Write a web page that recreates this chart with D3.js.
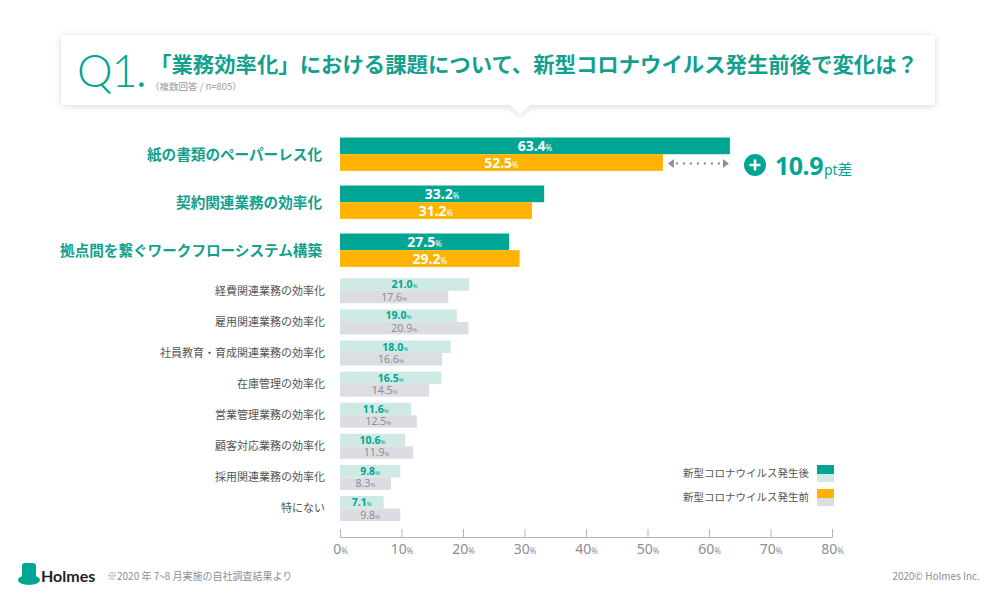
<!DOCTYPE html>
<html>
<head>
<meta charset="utf-8">
<script src="https://cdn.jsdelivr.net/npm/d3@7"></script>
<style>
  body { margin: 0; background: #fff; }
  svg { display: block; font-family: "Noto Sans CJK JP", "Noto Sans", sans-serif; }
</style>
</head>
<body>
<div id="chart"></div>
<script>
// Data
const categories = [
  '紙の書類のペーパーレス化',
  '契約関連業務の効率化',
  '拠点間を繋ぐワークフローシステム構築',
  '経費関連業務の効率化',
  '雇用関連業務の効率化',
  '社員教育・育成関連業務の効率化',
  '在庫管理の効率化',
  '営業管理業務の効率化',
  '顧客対応業務の効率化',
  '採用関連業務の効率化',
  '特にない'
];
const afterValues = [63.4, 33.2, 27.5, 21.0, 19.0, 18.0, 16.5, 11.6, 10.6, 9.8, 7.1];
const beforeValues = [52.5, 31.2, 29.2, 17.6, 20.9, 16.6, 14.5, 12.5, 11.9, 8.3, 9.8];
const seriesNames = ['新型コロナウイルス発生後', '新型コロナウイルス発生前'];
const xTicks = [0, 10, 20, 30, 40, 50, 60, 70, 80];
const highlightCount = 3;
const diffLabel = '10.9';

const W = 1000, H = 604;
const col = {
  teal: '#00a594', orange: '#fdb300', lightTeal: '#cfe9e4', lightGray: '#dcdde3',
  labelTeal: '#13a08e', text: '#555', gray: '#8c8d96'
};

const svg = d3.select('#chart').append('svg')
    .attr('width', W).attr('height', H);

svg.append('rect').attr('width', W).attr('height', H).attr('fill', '#fff');

// drop shadow for the title box
const defs = svg.append('defs');
defs.append('filter').attr('id', 'shadow')
    .attr('x', '-5%').attr('y', '-30%').attr('width', '110%').attr('height', '170%')
  .append('feDropShadow')
    .attr('dx', 0).attr('dy', 1).attr('stdDeviation', 3.5)
    .attr('flood-color', '#000').attr('flood-opacity', 0.16);

// Title box with pointer
const box = svg.append('g').attr('filter', 'url(#shadow)');
box.append('path')
    .attr('d', 'M64,35 H932 Q935,35 935,38 V102 Q935,105 932,105 H530 L520,114 L510,105 H64 Q61,105 61,102 V38 Q61,35 64,35 Z')
    .attr('fill', '#fff');

const q = svg.append('text')
    .attr('x', 77).attr('y', 87)
    .attr('fill', col.teal)
    .attr('font-family', 'Lato, "Open Sans", sans-serif')
    .attr('font-weight', 300)
    .attr('font-size', 45)
    .attr('letter-spacing', -1);
q.append('tspan').text('Q1');
q.append('tspan').attr('font-weight', 700).attr('font-size', 30).attr('dx', 1).text('.');

svg.append('text')
    .attr('x', 150).attr('y', 72)
    .attr('fill', col.labelTeal)
    .attr('font-weight', 700)
    .attr('font-size', 21)
    .attr('textLength', 768)
    .attr('lengthAdjust', 'spacingAndGlyphs')
    .text('「業務効率化」における課題について、新型コロナウイルス発生前後で変化は？');

svg.append('text')
    .attr('x', 150).attr('y', 90)
    .attr('fill', '#999')
    .attr('font-size', 9.5)
    .text('（複数回答 / n=805）');

// Scales
const x = d3.scaleLinear().domain([0, 80]).range([340, 832]);

const bigH = 16.7, smallH = 12.5;
const groupTop = i => i < highlightCount ? 137.5 + 48 * i : 278.3 + 31.1 * (i - highlightCount);
const barH = i => i < highlightCount ? bigH : smallH;

const rows = categories.map((c, i) => ({
  name: c, after: afterValues[i], before: beforeValues[i], i, big: i < highlightCount
}));

const plot = svg.append('g');

// bars
const rowG = plot.selectAll('g.row')
  .data(rows)
  .join('g')
    .attr('class', 'row')
    .attr('transform', d => `translate(0, ${groupTop(d.i)})`);

rowG.append('rect')
    .attr('x', x(0)).attr('y', 0)
    .attr('width', d => x(d.after) - x(0))
    .attr('height', d => barH(d.i))
    .attr('fill', d => d.big ? col.teal : col.lightTeal);

rowG.append('rect')
    .attr('x', x(0)).attr('y', d => barH(d.i))
    .attr('width', d => x(d.before) - x(0))
    .attr('height', d => barH(d.i))
    .attr('fill', d => d.big ? col.orange : col.lightGray);

// value labels
const valueLabel = (sel, key, offset) => {
  const t = sel.append('text')
      .attr('x', d => (x(0) + x(d[key])) / 2)
      .attr('y', d => barH(d.i) * (offset + 0.5))
      .attr('dy', '0.36em')
      .attr('text-anchor', 'middle')
      .attr('font-family', '"Noto Sans", sans-serif')
      .attr('font-size', d => d.big ? 14 : 10.5)
      .attr('font-weight', d => (d.big || key === 'after') ? 700 : 400)
      .attr('fill', d => d.big ? '#fff' : (key === 'after' ? col.teal : col.gray));
  t.append('tspan').text(d => d[key].toFixed(1));
  t.append('tspan').attr('font-size', d => d.big ? 8 : 6).attr('font-weight', 400).text('%');
};
valueLabel(rowG, 'after', 0);
valueLabel(rowG, 'before', 1);

// category labels
rowG.append('text')
    .attr('x', d => d.big ? 322 : 325)
    .attr('y', d => barH(d.i) + (d.big ? 1 : 0))
    .attr('dy', '0.35em')
    .attr('text-anchor', 'end')
    .attr('font-size', d => d.big ? 14.6 : 11)
    .attr('font-weight', d => d.big ? 700 : 400)
    .attr('fill', d => d.big ? col.labelTeal : col.text)
    .text(d => d.name);

// x axis
const axisG = plot.append('g')
    .attr('transform', 'translate(0, 537)')
    .call(d3.axisBottom(x).tickValues(xTicks).tickSizeInner(-8).tickSizeOuter(0).tickPadding(7));
axisG.select('.domain').attr('stroke', '#b5b5bb');
axisG.selectAll('.tick line').attr('stroke', '#b5b5bb');
axisG.selectAll('.tick text')
    .attr('fill', '#8d8d95')
    .attr('font-family', '"Noto Sans", sans-serif')
    .attr('font-size', 14)
    .append('tspan').attr('font-size', 8).text('%');

// difference annotation
const first = rows[0];
const ay = groupTop(0) + bigH * 1.55;
const ax0 = x(first.before) + 5, ax1 = x(first.after) - 1;
const ann = plot.append('g').attr('fill', '#8e8e99');
ann.append('line')
    .attr('x1', ax0 + 9).attr('x2', ax1 - 8)
    .attr('y1', ay).attr('y2', ay)
    .attr('stroke', '#8e8e99').attr('stroke-width', 2.4)
    .attr('stroke-linecap', 'round').attr('stroke-dasharray', '0,7');
ann.append('path').attr('d', `M${ax0},${ay} l6,-4.5 v9 Z`);
ann.append('path').attr('d', `M${ax1},${ay} l-6,-4.5 v9 Z`);

const cx = 755, cy = 165;
plot.append('circle').attr('cx', cx).attr('cy', cy).attr('r', 11).attr('fill', col.teal);
plot.append('path')
    .attr('d', `M${cx - 5.5},${cy} H${cx + 5.5} M${cx},${cy - 5.5} V${cy + 5.5}`)
    .attr('stroke', '#fff').attr('stroke-width', 2.6);
const diff = plot.append('text')
    .attr('x', 775).attr('y', 175)
    .attr('fill', col.teal)
    .attr('font-family', '"Noto Sans", sans-serif');
diff.append('tspan').attr('font-size', 25).attr('font-weight', 700).attr('letter-spacing', -0.5).text(diffLabel);
diff.append('tspan').attr('font-size', 14).attr('dx', 1).text('pt');
diff.append('tspan').attr('font-size', 15).attr('font-family', '"Noto Sans CJK JP", sans-serif').text('差');

// legend
const legendColors = [[col.teal, col.lightTeal], [col.orange, col.lightGray]];
const legend = svg.append('g').selectAll('g')
  .data(seriesNames)
  .join('g')
    .attr('transform', (d, i) => `translate(0, ${465 + 24 * i})`);
legend.append('rect').attr('x', 817).attr('y', 0).attr('width', 17).attr('height', 9)
    .attr('fill', (d, i) => legendColors[i][0]);
legend.append('rect').attr('x', 817).attr('y', 9).attr('width', 17).attr('height', 8)
    .attr('fill', (d, i) => legendColors[i][1]);
legend.append('text')
    .attr('x', 809).attr('y', 8).attr('dy', '0.35em')
    .attr('text-anchor', 'end')
    .attr('font-size', 10.5).attr('fill', col.text)
    .text(d => d);

// footer
const logo = svg.append('g');
logo.append('ellipse').attr('cx', 29).attr('cy', 580).attr('rx', 11).attr('ry', 5).attr('fill', col.teal);
logo.append('rect').attr('x', 22).attr('y', 563).attr('width', 14).attr('height', 16).attr('rx', 3).attr('fill', col.teal);
logo.append('text')
    .attr('x', 41).attr('y', 582)
    .attr('font-family', 'Lato, "Noto Sans", sans-serif')
    .attr('font-weight', 700).attr('font-size', 16).attr('fill', '#222')
    .text('Holmes');

svg.append('text')
    .attr('x', 107).attr('y', 580)
    .attr('font-size', 10).attr('fill', '#8d8d95')
    .text('※2020 年 7~8 月実施の自社調査結果より');

svg.append('text')
    .attr('x', 980).attr('y', 580)
    .attr('text-anchor', 'end')
    .attr('font-size', 10).attr('fill', '#8d8d95')
    .text('2020© Holmes Inc.');
</script>
</body>
</html>
